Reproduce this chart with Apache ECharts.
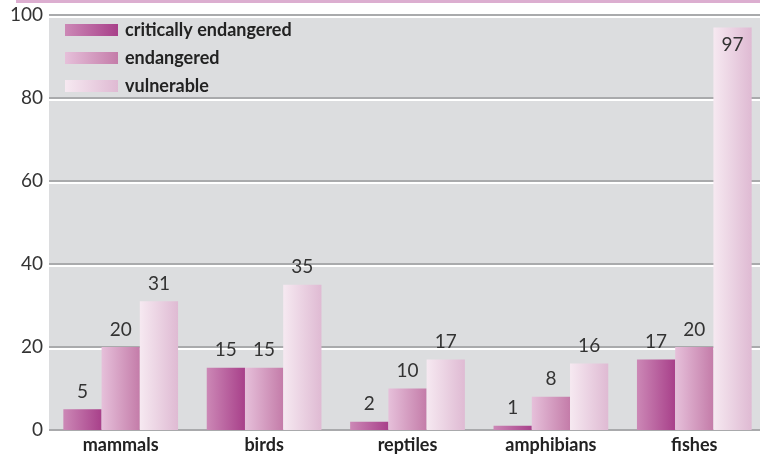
<!DOCTYPE html>
<html><head><meta charset="utf-8">
<script src="https://cdn.jsdelivr.net/npm/echarts@6/dist/echarts.min.js"></script>
<style>html,body{margin:0;padding:0;background:#fff;overflow:hidden}#c{width:768px;height:454px}</style>
</head><body><div id="c"></div>
<script>
const categories = ["mammals", "birds", "reptiles", "amphibians", "fishes"];
const seriesNames = ["critically endangered", "endangered", "vulnerable"];
const critical = [5, 15, 2, 1, 17];
const endangered = [20, 15, 10, 8, 20];
const vulnerable = [31, 35, 17, 16, 97];
const yTicks = [0, 20, 40, 60, 80, 100];

function grad(a, b) {
  return new echarts.graphic.LinearGradient(0, 0, 1, 0, [{offset: 0, color: a}, {offset: 1, color: b}]);
}
const fills = [grad('#cc88b6', '#a8408a'), grad('#e6c0da', '#c47ca9'), grad('#f6e9f1', '#dfbad3')];
const font = 'Lato, "Open Sans", sans-serif';

const chart = echarts.init(document.getElementById('c'));
const data = [critical, endangered, vulnerable];
chart.setOption({
  animation: false,
  grid: {left: 49, right: 2, top: 15, bottom: 23, show: true, backgroundColor: '#dcdddf', borderWidth: 0},
  graphic: [{type: 'rect', shape: {x: 16, y: 0, width: 760, height: 3}, style: {fill: '#dcaed0'}}],
  legend: {
    left: 65, top: 21, orient: 'vertical', itemWidth: 53, itemHeight: 12, itemGap: 10, padding: 0,
    icon: 'rect',
    textStyle: {fontFamily: font, fontWeight: 'bold', fontSize: 18, color: '#222', padding: [0, 0, 0, 2]},
    data: seriesNames
  },
  xAxis: {
    type: 'category', data: categories,
    axisLine: {show: false}, axisTick: {show: false},
    axisLabel: {fontFamily: font, fontWeight: 'bold', fontSize: 18, color: '#222', margin: 6}
  },
  yAxis: {
    type: 'value', min: yTicks[0], max: yTicks[yTicks.length - 1], interval: 20,
    axisLine: {show: false}, axisTick: {show: false},
    axisLabel: {fontFamily: font, fontSize: 19, color: '#333', margin: 6},
    splitLine: {lineStyle: {color: '#a9aaac', width: 2, shadowColor: '#ffffff', shadowOffsetY: 2, shadowBlur: 0}}
  },
  series: data.map((d, i) => ({
    name: seriesNames[i], type: 'bar', barGap: '0%', barCategoryGap: '20%',
    itemStyle: {color: fills[i]},
    data: d.map(v => v >= 90 ? {value: v, label: {position: 'insideTop', distance: 8}} : v),
    label: {show: true, position: 'top', distance: 8, fontFamily: font, fontSize: 19, color: '#333'}
  }))
});
</script></body></html>
